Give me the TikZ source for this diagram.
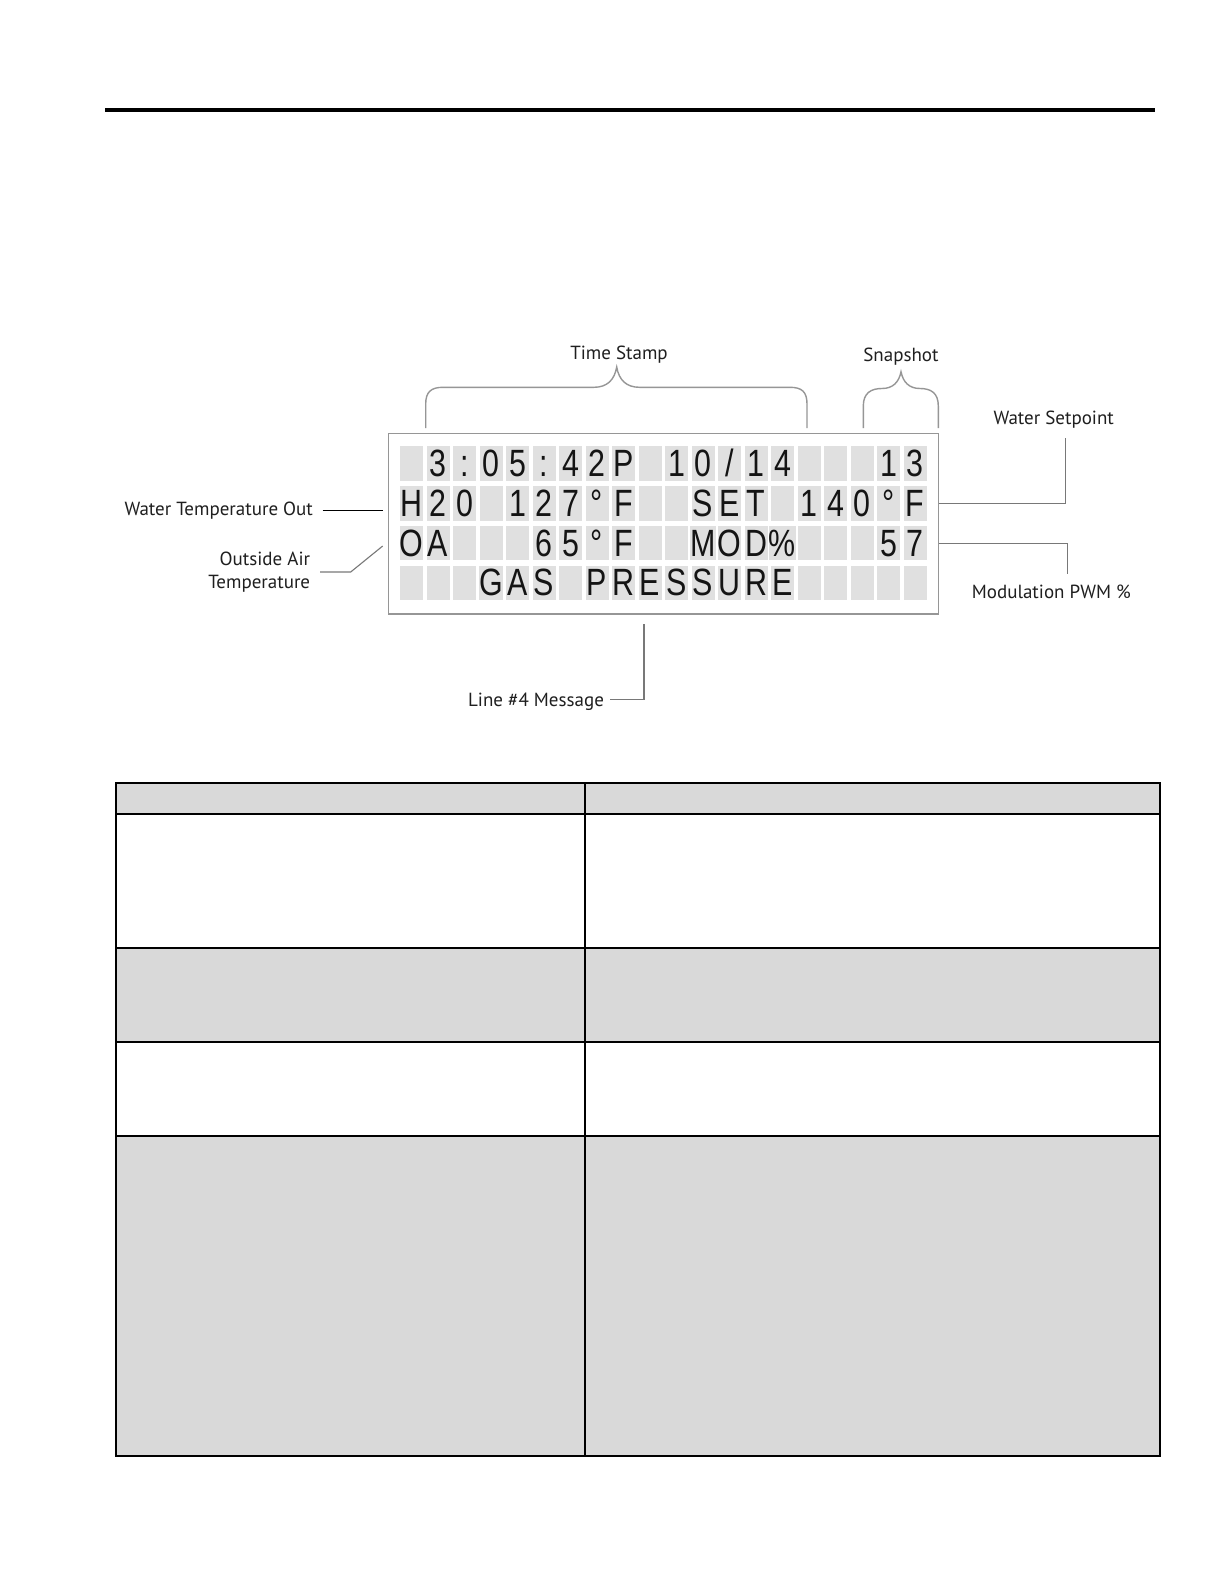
\documentclass[tikz,border=0pt]{standalone}
\usepackage{fontspec}
\setmainfont{PT Sans}
\newfontfamily\lcdfont[FakeStretch=0.8]{Liberation Sans}
\usetikzlibrary{positioning, calc}

\definecolor{lcdcellgray}{RGB}{224,224,224}
\definecolor{framegray}{RGB}{150,150,150}
\definecolor{leadergray}{RGB}{120,120,120}
\definecolor{tablegray}{RGB}{217,217,217}

\begin{document}
\begin{tikzpicture}[
    x=0.5pt, y=-0.5pt,
    lcdframe/.style={rectangle, draw=framegray, line width=0.75pt, minimum width=275pt, minimum height=90.35pt, inner sep=0pt},
    lcdcell/.style={rectangle, fill=lcdcellgray, minimum width=11.5pt, minimum height=17.25pt, inner sep=0pt, text height=13pt, text depth=0pt, font=\lcdfont\fontsize{19}{19}\selectfont, text=black!92},
    callout/.style={inner sep=0pt, font=\fontsize{9.5}{11.3}\selectfont, text=black!88},
    leader/.style={draw=leadergray, line width=0.55pt},
    brace/.style={draw=framegray, line width=0.7pt},
    tableline/.style={line width=1.1pt}
]

% Page
\useasboundingbox (0,0) rectangle (1224,1584);
\fill[white] (0,0) rectangle (1224,1584);

% Header rule
\draw[line width=2pt] (105,109.7) -- (1155,109.7);

% LCD display
\node[lcdframe] (lcd) at (663.3,523.7) {};

% LCD characters (4 rows x 20 cells)
\foreach \r/\chars in {0/{~,3,:,0,5,:,4,2,P,~,1,0,/,1,4,~,~,~,1,3},
                       1/{H,2,0,~,1,2,7,°,F,~,~,S,E,T,~,1,4,0,°,F},
                       2/{O,A,~,~,~,6,5,°,F,~,~,M,O,D,\%,~,~,~,5,7},
                       3/{~,~,~,G,A,S,~,P,R,E,S,S,U,R,E,~,~,~,~,~}}
  \foreach \ch [count=\c from 0] in \chars
    \node[lcdcell] (c\r-\c) at (411.5+26.5*\c, 463.5+39.8*\r) {\ch};

% Callouts
\node[callout] (stamp) at (619,354.3) {Time Stamp};
\node[callout] (snap) at (901,356.7) {Snapshot};
\node[callout] (setpt) at (1053.7,420) {Water Setpoint};
\node[callout, anchor=east] (wtout) at (313.3,510.5) {Water Temperature Out};
\node[callout, anchor=east, align=right] (oat) at (310.5,572) {Outside Air\\Temperature};
\node[callout] (modpwm) at (1051.3,592.3) {Modulation PWM \%};
\node[callout, anchor=east] (line4) at (604.3,702) {Line \#4 Message};

% Braces
\coordinate (stamptip) at (616.7,367);
\coordinate (snaptip) at (901,371.7);
\draw[brace] (425.7,428) -- (425.7,404)
    .. controls (425.7,392) and (431,387.3) .. (443,387.3) -- (594,387.3)
    .. controls (607,387.3) and (614.5,380) .. (stamptip)
    .. controls (618.9,380) and (626.4,387.3) .. (639.4,387.3) -- (790,387.3)
    .. controls (802,387.3) and (807,392) .. (807,404) -- (807,428);
\draw[brace] (863.3,428) -- (863.3,406)
    .. controls (863.3,393) and (871,388.5) .. (882,388.5)
    .. controls (893,388.5) and (899,382) .. (snaptip)
    .. controls (903,382) and (909,388.5) .. (920,388.5)
    .. controls (931,388.5) and (938.3,393) .. (938.3,406) -- (938.3,428);

% Leaders
\draw[leader, draw=black] ([xshift=4.7pt]wtout.east) -- ([xshift=-2.5pt]wtout.east -| lcd.west);
\coordinate (oattip) at (382.7,546);
\draw[leader] ([xshift=4.75pt]oat.east) -- ++(15.35pt,0) -- (oattip);
\draw[leader] (c1-19 -| lcd.east) -| ([xshift=6pt,yshift=-4.65pt]setpt.south);
\draw[leader] (c2-19 -| lcd.east) -| ([xshift=8.2pt,yshift=5.4pt]modpwm.north);
\draw[leader] ([xshift=2.85pt,yshift=1.3pt]line4.east) -| ([xshift=-9.65pt,yshift=-4.35pt]lcd.south);

% Table
\fill[tablegray] (116,782.7) rectangle (1160,814);
\fill[tablegray] (116,948.3) rectangle (1160,1042.2);
\fill[tablegray] (116,1136.1) rectangle (1160,1456.2);
\draw[tableline] (116,782.7) rectangle (1160,1456.2);
\foreach \y in {814,948.3,1042.2,1136.1}
  \draw[tableline] (116,\y) -- (1160,\y);
\draw[tableline] (584.7,782.7) -- (584.7,1456.2);

\end{tikzpicture}
\end{document}
